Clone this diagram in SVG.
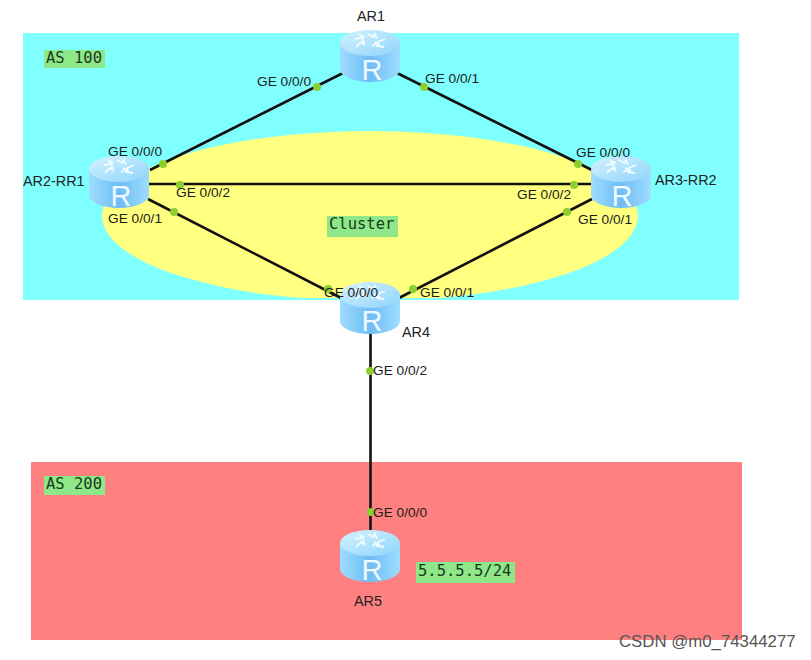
<svg xmlns="http://www.w3.org/2000/svg" width="811" height="660" viewBox="0 0 811 660">
<style>
.lb{font:13.700px "Liberation Sans",Arial,sans-serif;fill:#1c1c1c}
.nm{font:14.400px "Liberation Sans",Arial,sans-serif;fill:#222}
.m{font:15.500px "DejaVu Sans Mono","Liberation Mono",monospace;fill:#1a3a1a}
.tag{fill:#8ee88a}
.ln{stroke:#111;stroke-width:2.6;fill:none}
.pt{fill:#8ccf2e}
.r{font:29px "Liberation Sans",Arial,sans-serif;fill:#eefaff;text-anchor:middle}
</style>
<defs>
<linearGradient id="body" x1="0" x2="1" y1="0" y2="0">
<stop offset="0" stop-color="#9fdcff"/><stop offset=".5" stop-color="#6fbcf5"/><stop offset="1" stop-color="#9fdcff"/>
</linearGradient>
<linearGradient id="top" x1="0" x2="1" y1="0" y2="1">
<stop offset="0" stop-color="#d4f2ff"/><stop offset="1" stop-color="#8fd4fb"/>
</linearGradient>
<g id="router">
<path d="M-30,-13V13A30,13 0 0 0 30,13V-13Z" fill="url(#body)"/>
<ellipse cx="0" cy="-13" rx="30" ry="13" fill="url(#top)"/>
<path d="M-15,-17l7,-1l-2,-3l5,2M-14,-9l5,-5l3,2l-1,-5M15,-17l-7,3l1,3l-5,-3M14,-9l-7,-1l1,-3l-6,3M-2,-22l5,3l2,-3l2,5" fill="none" stroke="#f2fbff" stroke-width="1.800"/>
</g>
</defs>
<rect width="811" height="660" fill="#fff"/>
<rect x="23" y="33" width="716" height="267" fill="#80ffff"/>
<rect x="31" y="462" width="711" height="178" fill="#ff8080"/>
<ellipse cx="370" cy="216" rx="268" ry="85" fill="#ffff80"/>
<rect x="23" y="298" width="716" height="2" fill="#80ffff"/>
<g id="connectors">
<line class="ln" x1="150" y1="170" x2="343" y2="73"/>
<line class="ln" x1="397" y1="73" x2="592" y2="170"/>
<line class="ln" x1="148" y1="184" x2="592" y2="184"/>
<line class="ln" x1="148" y1="199" x2="343" y2="299"/>
<line class="ln" x1="592" y1="199" x2="397" y2="299"/>
<line class="ln" x1="370.500" y1="333" x2="370.500" y2="532"/>
<circle class="pt" cx="317" cy="87" r="4"/>
<circle class="pt" cx="424" cy="87" r="4"/>
<circle class="pt" cx="163" cy="164" r="4"/>
<circle class="pt" cx="180" cy="185" r="4"/>
<circle class="pt" cx="174" cy="212" r="4"/>
<circle class="pt" cx="578" cy="164" r="4"/>
<circle class="pt" cx="574" cy="185" r="4"/>
<circle class="pt" cx="567" cy="212" r="4"/>
<circle class="pt" cx="328" cy="289" r="4"/>
<circle class="pt" cx="413" cy="289" r="4"/>
<circle class="pt" cx="370" cy="371" r="4"/>
<circle class="pt" cx="371" cy="512" r="4"/>
</g>
<g id="AR1"><use href="#router" x="370" y="56"/><text class="r" x="372" y="80">R</text><text class="nm" x="357" y="21">AR1</text></g>
<g id="AR2-RR1"><use href="#router" x="119" y="182"/><text class="r" x="121" y="206">R</text><text class="nm" x="23" y="186">AR2-RR1</text></g>
<g id="AR3-RR2"><use href="#router" x="621" y="182"/><text class="r" x="622" y="206">R</text><text class="nm" x="655" y="185">AR3-RR2</text></g>
<g id="AR4"><use href="#router" x="370" y="308"/><text class="r" x="372" y="331">R</text><text class="nm" x="402" y="337">AR4</text></g>
<g id="AR5"><use href="#router" x="370" y="556"/><text class="r" x="372" y="580">R</text><text class="nm" x="354" y="606">AR5</text></g>
<g id="port-labels">
<text x="257" y="86" class="lb">GE 0/0/0</text>
<text x="425" y="83" class="lb">GE 0/0/1</text>
<text x="108" y="156" class="lb">GE 0/0/0</text>
<text x="176" y="197" class="lb">GE 0/0/2</text>
<text x="108" y="223" class="lb">GE 0/0/1</text>
<text x="576" y="157" class="lb">GE 0/0/0</text>
<text x="517" y="199" class="lb">GE 0/0/2</text>
<text x="578" y="224" class="lb">GE 0/0/1</text>
<text x="324" y="297" class="lb">GE 0/0/0</text>
<text x="420" y="297" class="lb">GE 0/0/1</text>
<text x="373" y="375" class="lb">GE 0/0/2</text>
<text x="373" y="517" class="lb">GE 0/0/0</text>
</g>
<g id="as100"><rect class="tag" x="44" y="50" width="61" height="18"/><text class="m" x="46" y="63">AS 100</text></g>
<g id="cluster"><rect class="tag" x="327" y="216" width="71" height="21"/><text class="m" x="329" y="229">Cluster</text></g>
<g id="as200"><rect class="tag" x="44" y="476" width="61" height="19"/><text class="m" x="46" y="489">AS 200</text></g>
<g id="net"><rect class="tag" x="416" y="562" width="99" height="21"/><text class="m" x="418" y="576">5.5.5.5/24</text></g>
<text x="619" y="647" font-family="Liberation Sans, Arial, sans-serif" font-size="16.800" fill="#555">CSDN @m0_74344277</text>
</svg>
